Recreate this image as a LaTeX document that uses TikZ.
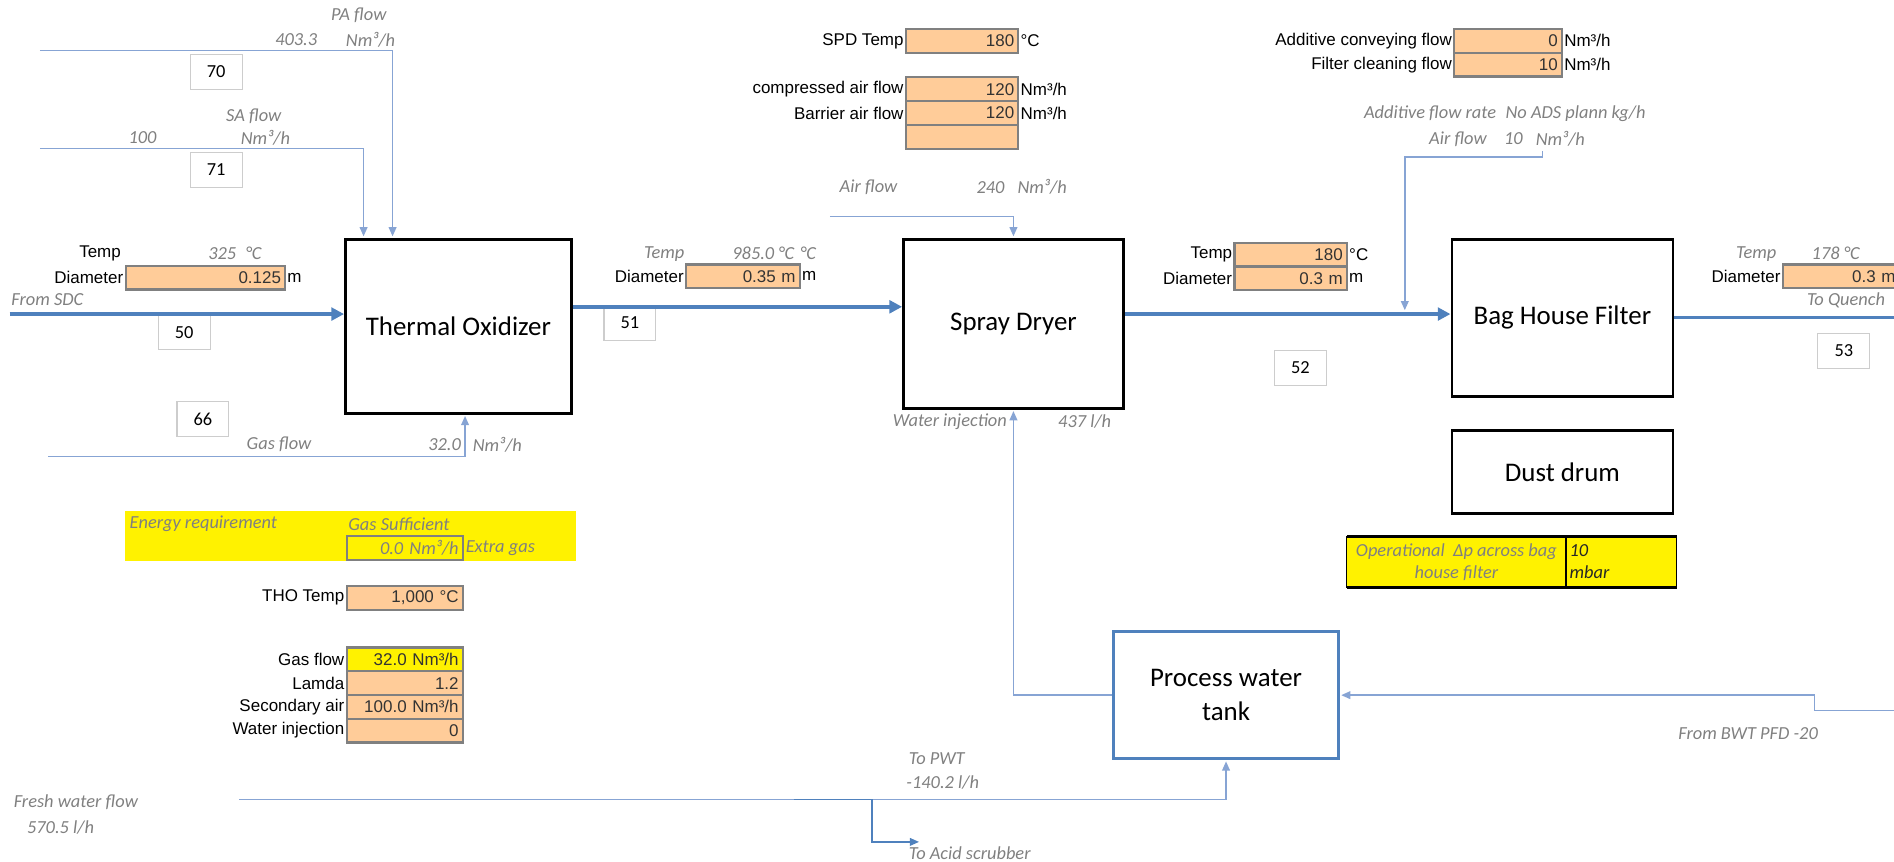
\documentclass[tikz,border=0pt]{standalone}
\usepackage{fontspec}
\setmainfont{Carlito}
\newfontfamily\arialfont{Liberation Sans}
\usepackage{xcolor}
\usepackage{tikz}
\usetikzlibrary{positioning,arrows.meta,calc}

\definecolor{streamblue}{RGB}{79,129,189}
\definecolor{feedblue}{RGB}{135,164,212}
\definecolor{cellfill}{RGB}{255,204,153}
\definecolor{cellrule}{RGB}{128,128,128}
\definecolor{labelgray}{RGB}{128,128,128}
\definecolor{tagrule}{RGB}{205,205,205}

\begin{document}
\begin{tikzpicture}[
    x=0.03cm, y=-0.03cm,
    unit/.style={
      draw,
      line width=2pt,
      align=center,
      font=\fontsize{19}{24}\selectfont
    },
    tag/.style={
      draw=tagrule,
      line width=0.8pt,
      minimum width=1.29cm,
      minimum height=0.87cm,
      font=\fontsize{13}{15}\selectfont
    },
    cell/.style={
      draw=cellrule,
      line width=1.5pt,
      fill=cellfill,
      outer sep=0pt,
      inner xsep=0.1cm,
      inner ysep=0pt,
      text width=#1,
      minimum height=0.59cm,
      align=right,
      text=black!80,
      font=\arialfont\fontsize{12}{14}\selectfont
    },
    txt/.style={inner sep=1.5pt, font=\arialfont\fontsize{12}{14}\selectfont},
    lbl/.style={inner sep=1pt, text=labelgray, font=\itshape\fontsize{13}{15}\selectfont},
    stream/.style={
      draw=streamblue,
      line width=2.4pt,
      -{Triangle[length=9pt,width=9pt]}
    },
    feed/.style={
      draw=feedblue,
      line width=1pt,
      -{Triangle[length=6.5pt,width=5.5pt]},
      shorten >=1pt
    }
  ]
  \useasboundingbox (0,0) rectangle (1568,713);

  % process units
  \node[unit, minimum width=5.61cm, minimum height=4.32cm] (TO) at (379.5,270) {Thermal Oxidizer};
  \node[unit, minimum width=5.46cm, minimum height=4.2cm] (SD) at (839,268) {Spray Dryer};
  \node[unit, minimum width=5.49cm, minimum height=3.9cm] (BHF) at (1293.5,263) {Bag House Filter};
  \node[unit, minimum width=5.49cm, minimum height=2.07cm, below=0.78cm of BHF] (dust) {Dust drum};
  \node[unit, draw=streamblue, minimum width=5.58cm, minimum height=3.15cm] (PWT) at (1015,575.5) {Process water\\tank};

  % stream numbers
  \node[tag] (t70) at (179,59.5) {70};
  \node[tag] (t71) at (179,140.5) {71};
  \node[tag] (t50) at (152.5,275) {50};
  \node[tag] (t66) at (168,347) {66};
  \node[tag] (t51) at (521.5,267.5) {51};
  \node[tag] (t52) at (1076.5,304.5) {52};
  \node[tag] (t53) at (1526.5,290.5) {53};

  % inlet to thermal oxidizer
  \node[lbl] at (297,13) {PA flow};
  \node[lbl, anchor=east] at (264,33) {403.3};
  \node[lbl, anchor=west] at (285,33) {Nm³/h};
  \node[lbl] at (210,96) {SA flow};
  \node[lbl, anchor=east] at (131,114) {100};
  \node[lbl, anchor=west] at (198,114) {Nm³/h};
  \node[txt, anchor=east] at (102,210) {Temp};
  \node[lbl, anchor=east] at (197,210) {325};
  \node[lbl, anchor=west] at (202,210) {°C};
  \node[cell=3.76cm, anchor=north west] (d50) at (104,220) {0.125};
  \node[txt, left=0pt of d50] {Diameter};
  \node[txt, right=0pt of d50] {m};
  \node[lbl, anchor=west] at (8,248) {From SDC};
  \node[lbl] at (231,368) {Gas flow};
  \node[lbl, anchor=east] at (383,368) {32.0};
  \node[lbl, anchor=west] at (390,368) {Nm³/h};

  % thermal oxidizer to spray dryer
  \node[lbl, anchor=east] at (568,210) {Temp};
  \node[lbl, anchor=east] at (659,210) {985.0 °C};
  \node[lbl, anchor=west] at (661,210) {°C};
  \node[cell=2.62cm, anchor=north west] (d51) at (568,219) {0.35 m};
  \node[txt, left=0pt of d51] {Diameter};
  \node[txt, right=0pt of d51] {m};

  % spray dryer settings
  \node[cell=2.59cm, anchor=north west] (spd) at (750,24) {180};
  \node[txt, left=0pt of spd] {SPD Temp};
  \node[txt, right=0pt of spd] {°C};
  \node[cell=2.59cm, anchor=north west] (cmp) at (750,64) {120};
  \node[txt, left=0pt of cmp] {compressed air flow};
  \node[txt, right=0pt of cmp] {Nm³/h};
  \node[cell=2.59cm, below=0pt of cmp] (bar) {120};
  \node[txt, left=0pt of bar] {Barrier air flow};
  \node[txt, right=0pt of bar] {Nm³/h};
  \node[cell=2.59cm, below=0pt of bar] (spare) {};
  \node[lbl] at (719,155) {Air flow};
  \node[lbl, anchor=east] at (833,155) {240};
  \node[lbl, anchor=west] at (841,155) {Nm³/h};
  \node[lbl, anchor=east] at (835,349) {Water injection};
  \node[lbl] at (898,349) {437 l/h};

  % spray dryer to bag house filter
  \node[cell=2.59cm, anchor=north west] (t52c) at (1022,201) {180};
  \node[txt, left=0pt of t52c] {Temp};
  \node[txt, right=0pt of t52c] {°C};
  \node[cell=2.59cm, below=0pt of t52c] (d52) {0.3 m};
  \node[txt, left=0pt of d52] {Diameter};
  \node[txt, right=0pt of d52] {m};

  % additive
  \node[cell=2.47cm, anchor=north west] (acf) at (1204,24) {0};
  \node[txt, left=0pt of acf] {Additive conveying flow};
  \node[txt, right=0pt of acf] {Nm³/h};
  \node[cell=2.47cm, below=0pt of acf] (fcf) {10};
  \node[txt, left=0pt of fcf] {Filter cleaning flow};
  \node[txt, right=0pt of fcf] {Nm³/h};
  \node[lbl, anchor=east] at (1240,94) {Additive flow rate};
  \node[lbl, anchor=west] at (1245,94) {No ADS plann kg/h};
  \node[lbl] at (1207,115) {Air flow};
  \node[lbl, anchor=east] at (1262,115) {10};
  \node[lbl, anchor=west] at (1270,115) {Nm³/h};

  % bag house filter outlet
  \node[lbl] at (1454,210) {Temp};
  \node[lbl, anchor=east] at (1541,210) {178 °C};
  \node[cell=2.7cm, anchor=north west] (d53) at (1476,219) {0.3 m\hspace{0.32cm}};
  \node[txt, left=0pt of d53] {Diameter};
  \node[lbl, anchor=east] at (1562,249) {To Quench};

  % energy balance
  \node[fill=yellow, inner sep=0pt, minimum width=11.22cm, minimum height=1.23cm, anchor=north west] (energy) at (103,423) {};
  \node[lbl, anchor=west] at (106,434) {Energy requirement};
  \node[lbl, anchor=west] at (287,434) {Gas Sufficient};
  \node[cell=2.68cm, fill=yellow, anchor=north west, text=labelgray, font=\itshape\fontsize{13}{15}\selectfont] (extra) at (287,444) {0.0 Nm³/h};
  \node[lbl, right=1pt of extra] {Extra gas};

  \node[cell=2.68cm, anchor=north west] (tho) at (287,485) {1,000 °C};
  \node[txt, left=0pt of tho] {THO Temp};
  \node[cell=2.68cm, fill=yellow, anchor=north west] (gasc) at (287,536) {32.0 Nm³/h};
  \node[txt, left=0pt of gasc] {Gas flow};
  \node[cell=2.68cm, below=0pt of gasc] (lam) {1.2};
  \node[txt, left=0pt of lam] {Lamda};
  \node[cell=2.68cm, below=0pt of lam] (sec) {100.0 Nm³/h};
  \node[txt, left=0pt of sec] {Secondary air};
  \node[cell=2.68cm, below=0pt of sec] (wat) {0};
  \node[txt, left=0pt of wat] {Water injection};

  % pressure drop
  \node[fill=yellow, inner sep=0pt, minimum width=5.43cm, minimum height=1.26cm, anchor=north west, align=center, text=labelgray, font=\itshape\fontsize{13}{15.5}\selectfont] (oplbl) at (1115,444) {Operational\ \ Δp across bag\\house filter};
  \node[fill=yellow, inner xsep=0.08cm, inner ysep=0pt, text width=2.57cm, minimum height=1.26cm, right=0pt of oplbl, align=left, text=black!85, font=\itshape\fontsize{13}{15.5}\selectfont] (opval) {10\\mbar};
  \draw[line width=2pt] (oplbl.north west) -- (opval.north east) (oplbl.south west) -- (opval.south east);
  \draw[line width=0.8pt] (oplbl.north west) -- (oplbl.south west) (oplbl.north east) -- (oplbl.south east) (opval.north east) -- (opval.south east);

  % water
  \node[lbl, anchor=west] at (10,664) {Fresh water flow};
  \node[lbl, anchor=west] at (21,685) {570.5 l/h};
  \node[lbl, anchor=west] at (751,628) {To PWT};
  \node[lbl, anchor=west] at (749,648) {-140.2 l/h};
  \node[lbl, anchor=west] at (751,706) {To Acid scrubber};
  \node[lbl, anchor=west] at (1388,607) {From BWT PFD -20};

  % main gas stream
  \coordinate (sdc) at (8,260);
  \coordinate (toout) at ([yshift=0.48cm]TO.east);
  \coordinate (sdout) at ([yshift=0.24cm]SD.east);
  \coordinate (quench) at (1575,263);
  \draw[stream] (sdc) -- (sdc -| TO.west);
  \draw[stream] (toout) -- (toout -| SD.west);
  \draw[stream] (sdout) -- (sdout -| BHF.west);
  \draw[stream, -] (BHF.east) -- (quench);

  % side feeds
  \coordinate (pa) at (33,42);
  \coordinate (sa) at (33,123);
  \coordinate (gas) at (40,378);
  \coordinate (air) at (687,179);
  \coordinate (addair) at (1277,125);
  \coordinate (addjoin) at (1163,258);
  \draw[feed] (pa) -| ([xshift=-1.635cm]TO.north);
  \draw[feed] (sa) -| ([xshift=-2.355cm]TO.north);
  \draw[feed] (gas) -| ([xshift=0.165cm]TO.south);
  \draw[feed] (air) -| (SD.north);
  \draw[feed] (addair) -- ++(0,5) -| (addjoin);
  \draw[feed] (PWT.west) -| (SD.south);

  % water lines
  \coordinate (fresh) at (198,662);
  \coordinate (split) at (657,662);
  \coordinate (acid) at (762,697);
  \coordinate (bwt) at (1575,588);
  \draw[feed] (fresh) -| (PWT.south);
  \draw[feed, draw=streamblue] (split) -- ++(65,0) |- (acid);
  \draw[feed] (bwt) -- ++(-73,0) |- (PWT.east);
\end{tikzpicture}
\end{document}
